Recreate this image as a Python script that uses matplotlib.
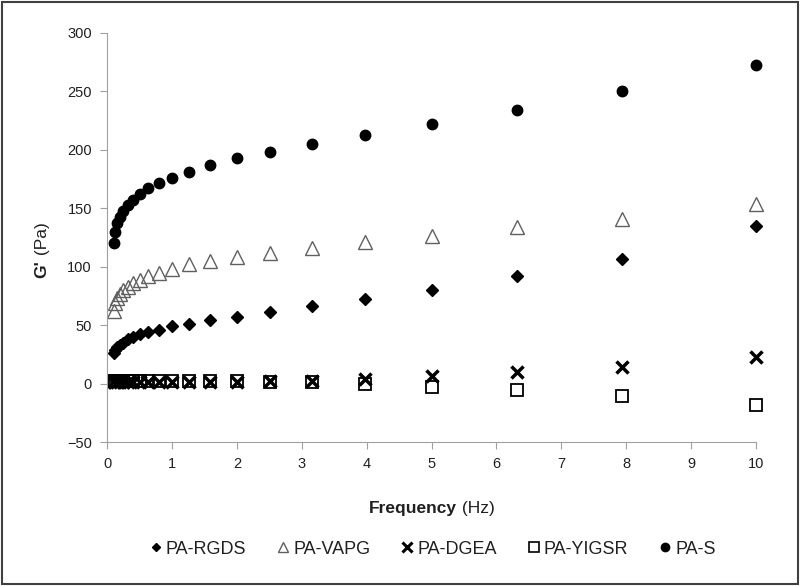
import matplotlib.pyplot as plt
import matplotlib.patches as patches

plt.rcParams['font.family'] = ['Liberation Sans', 'DejaVu Sans']

freq = [0.1, 0.126, 0.158, 0.2, 0.251, 0.316, 0.398, 0.501, 0.631, 0.794,
        1.0, 1.26, 1.58, 2.0, 2.51, 3.16, 3.98, 5.01, 6.31, 7.94, 10.0]

pa_rgds = [26, 29, 31, 33, 35, 38, 40, 42.5, 44.5, 46, 49, 51, 54, 57, 61,
           66, 72, 80, 92, 107, 135]
pa_vapg = [62, 69, 73, 77, 80, 83, 86, 89, 92, 95, 98, 102, 105, 108, 112,
           116, 121, 126, 134, 141, 154]
pa_dgea = [1, 1, 1, 1, 1, 1, 1, 1, 1, 1, 1, 1, 1.2, 1.5, 2,
           2.6, 4, 6.5, 9.7, 14, 23]
pa_yigsr = [2, 2, 2, 2, 2, 2, 2, 2, 2, 2, 2, 2, 2, 1.8, 1.5,
            1, 0, -3, -5.5, -11, -18.5]
pa_s = [120, 130, 137, 142.5, 147.5, 153, 157.5, 162.5, 167, 172, 175.5,
        181, 187, 193, 198, 205, 213, 222, 234, 250, 273]

labels = ['PA-RGDS', 'PA-VAPG', 'PA-DGEA', 'PA-YIGSR', 'PA-S']

fig = plt.figure(figsize=(8, 5.86), dpi=100)
ax = fig.add_axes([0.134, 0.2457, 0.811, 0.698])

ax.plot(freq, pa_rgds, 'D', color='black', ms=6, ls='none', clip_on=False)
ax.plot(freq, pa_vapg, '^', mfc='none', mec='#606060', mew=1.0, ms=9.5,
        ls='none', clip_on=False)
ax.plot(freq, pa_yigsr, 's', mfc='none', mec='black', mew=1.3, ms=9,
        ls='none', clip_on=False)
ax.plot(freq, pa_dgea, 'x', color='black', mew=2.5, ms=8, ls='none', clip_on=False)
ax.plot(freq, pa_s, 'o', color='black', ms=7.5, ls='none', clip_on=False)

ax.set_xlim(0, 10)
ax.set_ylim(-50, 300)
ax.set_xticks(range(0, 11))
ax.set_yticks(range(-50, 301, 50))
for s in ['top', 'right']:
    ax.spines[s].set_visible(False)
for s in ['left', 'bottom']:
    ax.spines[s].set_color('#a0a0a0')
ax.tick_params(direction='out', length=5, color='#a0a0a0', labelsize=10.5,
               labelcolor='#202020', pad=6)

# axis labels: bold part + normal part
fig.canvas.draw()
r = fig.canvas.get_renderer()
tx = fig.text(0.5, 0.132, 'Frequency', fontsize=12.5, fontweight='bold',
              ha='right', va='center', color='#202020')
tx2 = fig.text(0.5, 0.132, ' (Hz)', fontsize=12.5, ha='left', va='center',
               color='#202020')
w1 = tx.get_window_extent(r).width
w2 = tx2.get_window_extent(r).width
cx = 432 / 800
tx.set_x(cx + (w1 - w2) / 2 / fig.bbox.width)
tx2.set_x(cx + (w1 - w2) / 2 / fig.bbox.width)

ty = fig.text(0.0525, 0.5, "G'", fontsize=12.5, fontweight='bold', rotation=90,
              ha='center', va='top', color='#202020')
ty2 = fig.text(0.0525, 0.5, ' (Pa)', fontsize=12.5, rotation=90,
               ha='center', va='bottom', color='#202020')
hh1 = ty.get_window_extent(r).height
hh2 = ty2.get_window_extent(r).height
cy = 1 - 250 / 586
ty.set_y(cy + (hh1 - hh2) / 2 / fig.bbox.height)
ty2.set_y(cy + (hh1 - hh2) / 2 / fig.bbox.height)

leg_handles = [
    plt.Line2D([], [], marker='D', color='black', ms=4.5, ls='none'),
    plt.Line2D([], [], marker='^', mfc='none', mec='#606060', ms=7, ls='none'),
    plt.Line2D([], [], marker='x', color='black', mew=2.2, ms=7, ls='none'),
    plt.Line2D([], [], marker='s', mfc='none', mec='black', mew=1.2, ms=7, ls='none'),
    plt.Line2D([], [], marker='o', color='black', ms=6, ls='none'),
]
fig.legend(leg_handles, labels, loc='center', bbox_to_anchor=(0.54, 0.063),
           ncol=5, frameon=False, fontsize=13, handlelength=0.8,
           handletextpad=0.15, columnspacing=1.65, labelcolor='#202020')

fig.patches.append(patches.Rectangle((0.003, 0.003), 0.994, 0.994,
                                     transform=fig.transFigure, fill=False,
                                     edgecolor='#404040', linewidth=1.5))

fig.savefig('out.png', dpi=100)
